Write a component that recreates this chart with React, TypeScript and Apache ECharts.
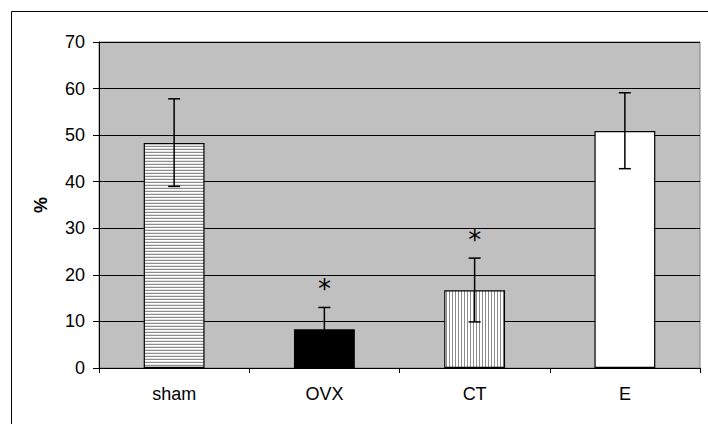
import React, { useEffect, useRef } from "react";
import * as echarts from "echarts";

const categories = ["sham", "OVX", "CT", "E"];
const means = [48.3, 8.3, 16.7, 50.9];
const errLow = [39.0, 3.6, 9.9, 42.8];
const errHigh = [57.8, 13.0, 23.6, 59.1];
const significant = [false, true, true, false];
const yTicks = { min: 0, max: 70, interval: 10 };

function makePattern(kind: "h" | "v"): HTMLCanvasElement {
  const c = document.createElement("canvas");
  if (kind === "h") {
    c.width = 4;
    c.height = 3;
    const ctx = c.getContext("2d")!;
    ctx.fillStyle = "#ffffff";
    ctx.fillRect(0, 0, 4, 3);
    ctx.fillStyle = "#e4e4e4";
    ctx.fillRect(0, 1, 4, 1);
    ctx.fillStyle = "#8c8c8c";
    ctx.fillRect(0, 2, 4, 1);
  } else {
    c.width = 3;
    c.height = 4;
    const ctx = c.getContext("2d")!;
    ctx.fillStyle = "#ffffff";
    ctx.fillRect(0, 0, 3, 4);
    ctx.fillStyle = "#8c8c8c";
    ctx.fillRect(2, 0, 1, 4);
  }
  return c;
}

export default function App() {
  const ref = useRef<HTMLDivElement>(null);
  useEffect(() => {
    if (!ref.current) return;
    const chart = echarts.init(ref.current, undefined, { renderer: "svg" });
    const hPat = makePattern("h");
    const vPat = makePattern("v");
    const fills: any[] = [
      { image: hPat, repeat: "repeat", imageWidth: 4, imageHeight: 3 },
      "#000000",
      { image: vPat, repeat: "repeat", imageWidth: 3, imageHeight: 4 },
      "#ffffff",
    ];
    const font = "'Liberation Sans', Arial, sans-serif";
    chart.setOption({
      animation: false,
      graphic: [
        {
          type: "rect",
          shape: { x: 11.5, y: 11.5, width: 720, height: 430 },
          style: { fill: "none", stroke: "#000", lineWidth: 1 },
          z: 0,
        },
      ],
      grid: {
        left: 99,
        top: 42,
        right: 8,
        bottom: 56,
        show: true,
        backgroundColor: "#c0c0c0",
        borderColor: "#808080",
        borderWidth: 1,
      },
      xAxis: {
        type: "category",
        data: categories,
        axisLine: { lineStyle: { color: "#000", width: 1 } },
        axisTick: { show: true, alignWithLabel: false, length: 5, lineStyle: { color: "#000" } },
        axisLabel: { color: "#000", fontSize: 18, fontFamily: font, margin: 17 },
        splitLine: { show: false },
      },
      yAxis: {
        type: "value",
        min: yTicks.min,
        max: yTicks.max,
        interval: yTicks.interval,
        name: "%",
        nameLocation: "middle",
        nameGap: 49,
        nameRotate: 90,
        nameTextStyle: { color: "#000", fontSize: 18, fontWeight: "bold", fontFamily: font },
        axisLine: { show: true, lineStyle: { color: "#000", width: 1 } },
        axisTick: { show: true, length: 6, lineStyle: { color: "#000" } },
        axisLabel: { color: "#000", fontSize: 18, fontFamily: font, margin: 14 },
        splitLine: { show: true, lineStyle: { color: "#000", width: 1 } },
      },
      series: [
        {
          type: "bar",
          barWidth: "40.5%",
          data: means.map((v, i) => ({
            value: v,
            itemStyle: { color: fills[i], borderColor: "#000", borderWidth: 1.2 },
          })),
          z: 2,
        },
        {
          type: "custom",
          z: 3,
          data: categories.map((_, i) => [i, errLow[i], errHigh[i], significant[i] ? 1 : 0]),
          renderItem: (params: any, api: any) => {
            const x = api.value(0);
            const lo = api.coord([x, api.value(1)]);
            const hi = api.coord([x, api.value(2)]);
            const cap = 6;
            const stroke = { stroke: "#000", lineWidth: 1.5 };
            const children: any[] = [
              { type: "line", shape: { x1: lo[0], y1: lo[1], x2: hi[0], y2: hi[1] }, style: stroke },
              { type: "line", shape: { x1: hi[0] - cap, y1: hi[1], x2: hi[0] + cap, y2: hi[1] }, style: stroke },
              { type: "line", shape: { x1: lo[0] - cap, y1: lo[1], x2: lo[0] + cap, y2: lo[1] }, style: stroke },
            ];
            if (api.value(3)) {
              children.push({
                type: "text",
                x: hi[0],
                y: hi[1] - 18,
                style: {
                  text: "*",
                  fontSize: 26,
                  fontFamily: "'DejaVu Sans', sans-serif",
                  fill: "#000",
                  align: "center",
                  verticalAlign: "middle",
                },
              });
            }
            return { type: "group", children };
          },
        },
      ],
    });
    return () => chart.dispose();
  }, []);
  return (
    <div
      ref={ref}
      style={{ position: "fixed", left: 0, top: 0, width: 708, height: 424, background: "#fff" }}
    />
  );
}
